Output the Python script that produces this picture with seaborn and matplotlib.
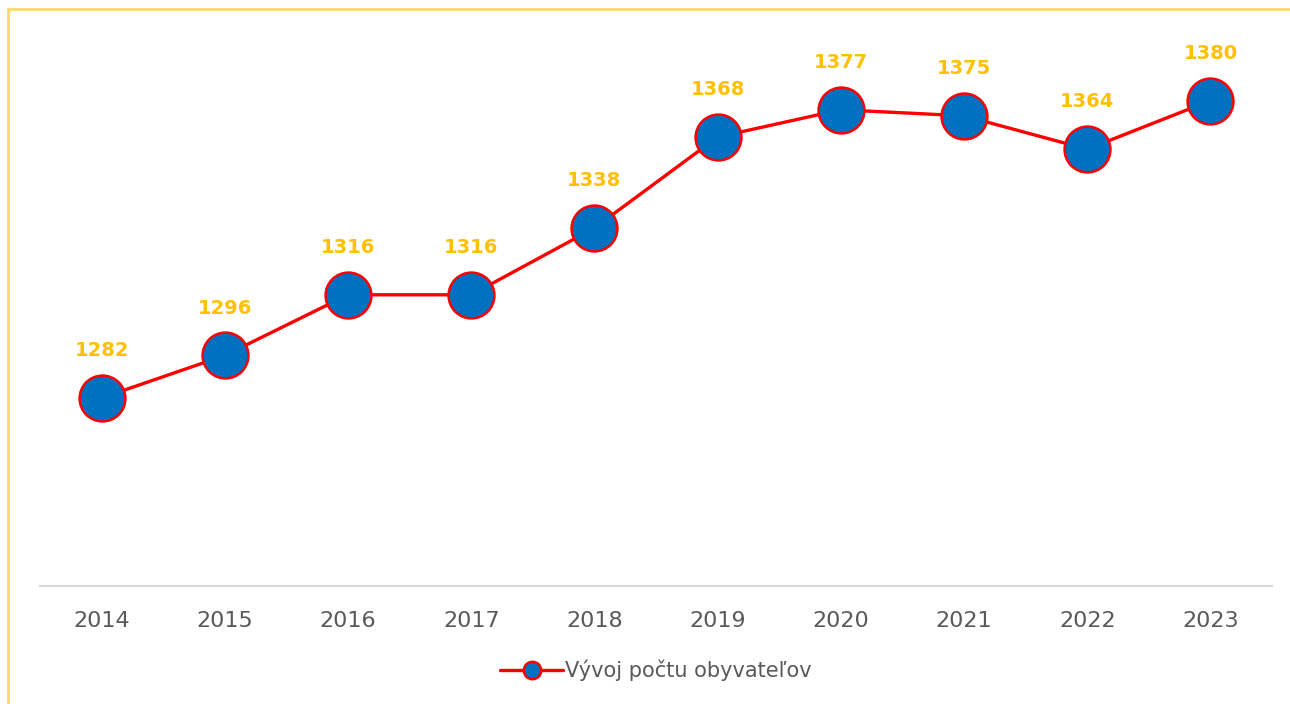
import numpy as np
import pandas as pd
import seaborn as sns
import matplotlib.pyplot as plt
from matplotlib.patches import Rectangle

years = ["2014", "2015", "2016", "2017", "2018", "2019", "2020", "2021", "2022", "2023"]
population = [1282, 1296, 1316, 1316, 1338, 1368, 1377, 1375, 1364, 1380]
series_name = "Vývoj počtu obyvateľov"

df = pd.DataFrame({"rok": years, "obyvatelia": population})

sns.set_style("white")
plt.rcParams['font.family'] = ['DejaVu Sans']

fig = plt.figure(figsize=(12.9, 7.04), dpi=100)
ax = fig.add_axes([40 / 1290, 118 / 704, 1232 / 1290, 546 / 704])

sns.lineplot(data=df, x="rok", y="obyvatelia", ax=ax, color="#FF0000", linewidth=2.4,
             marker="o", markersize=33, markerfacecolor="#0070C0",
             markeredgecolor="#FF0000", markeredgewidth=1.8, label=series_name,
             sort=False)

for i, v in enumerate(population):
    ax.annotate(str(v), (i, v), xytext=(0, 34), textcoords="offset points",
                ha="center", va="center", color="#FFC000", fontsize=14,
                fontweight="bold")

ax.set_xlim(-0.5, 9.5)
ax.set_ylim(1220, 1400)
ax.set_yticks([])
ax.set_xlabel("")
ax.set_ylabel("")
for s in ["top", "left", "right"]:
    ax.spines[s].set_visible(False)
ax.spines["bottom"].set_color("#D9D9D9")
ax.spines["bottom"].set_linewidth(1.5)
ax.tick_params(axis="x", length=0, pad=18, labelsize=16, labelcolor="#595959")

leg = ax.legend(loc="center", bbox_to_anchor=(0.5, -0.155), frameon=False,
                fontsize=15, handlelength=3.0, handletextpad=0.1,
                markerscale=0.38)
for t in leg.get_texts():
    t.set_color("#595959")

# yellow frame of the chart area
fig.patches.append(Rectangle((8 / 1290, -0.05), 1.2, 1 - 9 / 704 + 0.05,
                             transform=fig.transFigure, fill=False,
                             edgecolor="#FFD966", linewidth=2))

fig.savefig("out.png", dpi=100)
